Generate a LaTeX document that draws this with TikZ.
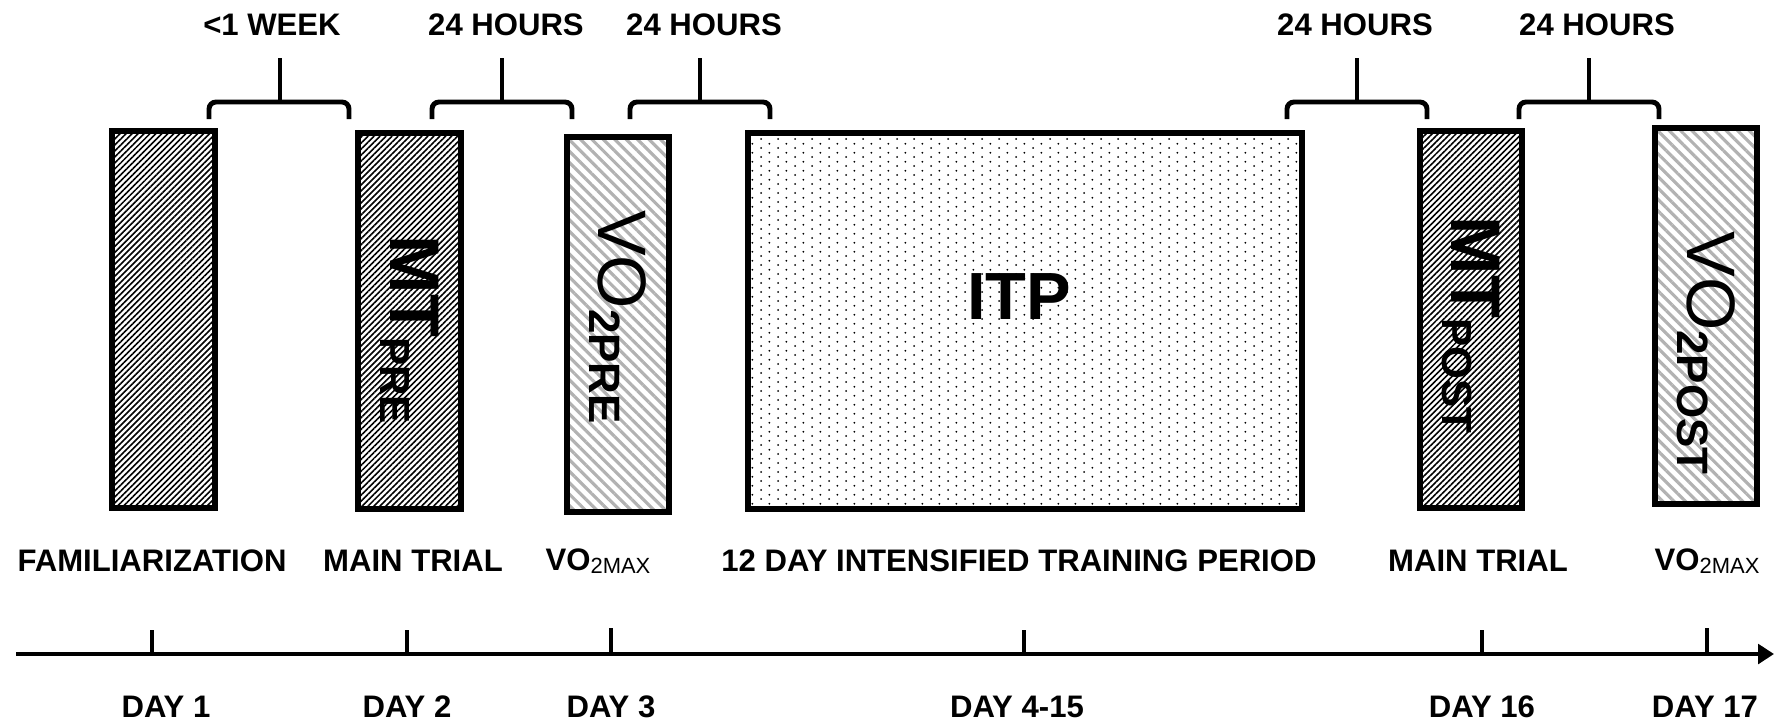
\documentclass[tikz,border=0pt]{standalone}
\usepackage{fontspec}
\setmainfont{Liberation Sans}
\usetikzlibrary{patterns.meta,arrows.meta}

\newcommand{\lowtext}[2]{\raisebox{-0.14em}{\fontsize{#1}{#1}\selectfont\bfseries #2}}

% dots in columns, every other column shifted by half a step
\pgfdeclarepatternformonly{offsetdots}{\pgfpointorigin}{\pgfqpoint{9.8pt}{4.9pt}}{\pgfqpoint{9.8pt}{4.9pt}}{
  \pgfpathcircle{\pgfqpoint{2.45pt}{1.2pt}}{0.6pt}
  \pgfpathcircle{\pgfqpoint{7.35pt}{3.65pt}}{0.6pt}
  \pgfusepath{fill}
}

\tikzset{
  darkhatch/.style={draw, line width=3.4pt,
    pattern={Lines[angle=45,distance=2.4pt,line width=0.9pt]}, pattern color=black},
  lighthatch/.style={draw, line width=3.4pt,
    pattern={Lines[angle=-45,distance=4.6pt,line width=1.8pt]}, pattern color=black!30},
  dotfill/.style={draw, line width=3.4pt, pattern=offsetdots, pattern color=black},
  gapbrace/.style={line width=2.8pt, rounded corners=4pt},
  labeltext/.style={font=\fontsize{17.7}{21}\selectfont\bfseries},
  daytick/.style={line width=2pt},
  timeaxis/.style={line width=2.4pt, -{Triangle[length=9pt,width=11pt]}}
}

\begin{document}
\begin{tikzpicture}[x=0.2mm, y=-0.2mm]
  \useasboundingbox (0, 0) rectangle (1775, 725);

  % test blocks
  \draw [darkhatch] (112, 131) rectangle (215, 508);
  \draw [darkhatch] (358, 133) rectangle (461, 509);
  \draw [lighthatch] (567, 137) rectangle (669, 512);
  \draw [dotfill] (748, 133) rectangle (1302, 509);
  \draw [darkhatch] (1420, 131) rectangle (1522, 508);
  \draw [lighthatch] (1655, 128) rectangle (1757, 504);

  \node (mtpre) [rotate=-90] at (410, 330)
    {\fontsize{40}{40}\selectfont\bfseries MT\lowtext{24}{PRE}};
  \node (vopre) [rotate=-90] at (618, 317)
    {\fontsize{39}{39}\selectfont VO\lowtext{25}{2PRE}};
  \node (itp) [font=\fontsize{38}{38}\selectfont\bfseries] at (1019, 297) {ITP};
  \node (mtpost) [rotate=-90] at (1471, 325)
    {\fontsize{40}{40}\selectfont\bfseries MT\lowtext{24}{POST}};
  \node (vopost) [rotate=-90] at (1706, 353)
    {\fontsize{39}{39}\selectfont VO\lowtext{25}{2POST}};

  % gaps between sessions
  \draw [gapbrace] (209, 119) -- (209, 102) -- (349, 102) -- (349, 119);
  \draw [gapbrace] (280, 102) -- (280, 58);
  \draw [gapbrace] (432, 119) -- (432, 102) -- (572, 102) -- (572, 119);
  \draw [gapbrace] (502, 102) -- (502, 58);
  \draw [gapbrace] (630, 119) -- (630, 102) -- (770, 102) -- (770, 119);
  \draw [gapbrace] (700, 102) -- (700, 58);
  \draw [gapbrace] (1287, 119) -- (1287, 102) -- (1427, 102) -- (1427, 119);
  \draw [gapbrace] (1357, 102) -- (1357, 58);
  \draw [gapbrace] (1519, 119) -- (1519, 102) -- (1659, 102) -- (1659, 119);
  \draw [gapbrace] (1589, 102) -- (1589, 58);

  \node (gap1) [labeltext] at (272, 25) {<1 WEEK};
  \node (gap2) [labeltext] at (506, 25) {24 HOURS};
  \node (gap3) [labeltext] at (704, 25) {24 HOURS};
  \node (gap4) [labeltext] at (1355, 25) {24 HOURS};
  \node (gap5) [labeltext] at (1597, 25) {24 HOURS};

  % what happens
  \node (fam) [labeltext] at (152, 561) {FAMILIARIZATION};
  \node (mt1) [labeltext] at (413, 561) {MAIN TRIAL};
  \node (vo1) [labeltext] at (598, 561) {VO\raisebox{-0.12em}{\fontsize{12.5}{12.5}\selectfont\mdseries 2MAX}};
  \node (train) [labeltext] at (1019, 561) {12 DAY INTENSIFIED TRAINING PERIOD};
  \node (mt2) [labeltext] at (1478, 561) {MAIN TRIAL};
  \node (vo2) [labeltext] at (1707, 561) {VO\raisebox{-0.12em}{\fontsize{12.5}{12.5}\selectfont\mdseries 2MAX}};

  % time line
  \draw [timeaxis] (16, 654) -- (1774, 654);
  \draw [daytick] (152, 630) -- (152, 654);
  \draw [daytick] (407, 630) -- (407, 654);
  \draw [daytick] (611, 628) -- (611, 654);
  \draw [daytick] (1024, 630) -- (1024, 654);
  \draw [daytick] (1482, 630) -- (1482, 654);
  \draw [daytick] (1707, 628) -- (1707, 654);

  \node (day1) [labeltext] at (166, 707) {DAY 1};
  \node (day2) [labeltext] at (407, 707) {DAY 2};
  \node (day3) [labeltext] at (611, 707) {DAY 3};
  \node (day4) [labeltext] at (1017, 707) {DAY 4-15};
  \node (day16) [labeltext] at (1482, 707) {DAY 16};
  \node (day17) [labeltext] at (1705, 707) {DAY 17};
\end{tikzpicture}
\end{document}
